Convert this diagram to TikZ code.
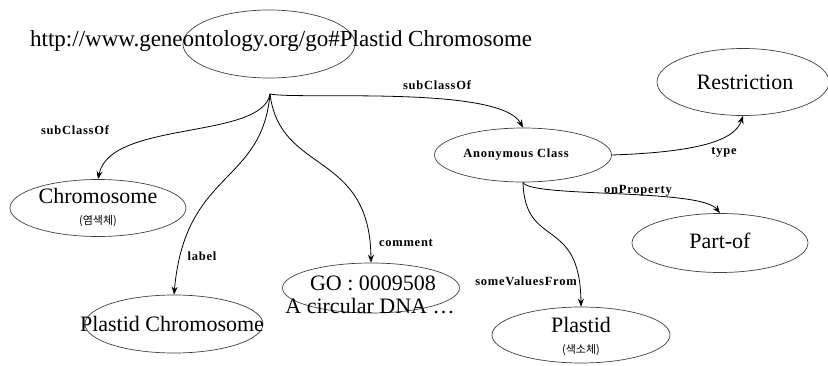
\documentclass[tikz,border=0pt]{standalone}
\usepackage{fontspec}
\setmainfont{Liberation Serif}
\newfontfamily\kofont{Noto Sans CJK KR}
\usetikzlibrary{arrows.meta,shapes.geometric}
\begin{document}
\begin{tikzpicture}[x=1pt,y=-1pt,
  ell/.style={draw=black!75,line width=0.7pt,ellipse,inner sep=0pt},
  big/.style={font=\fontsize{22}{24}\selectfont,inner sep=0pt},
  small/.style={font=\fontsize{11}{12}\selectfont\kofont,inner sep=0pt},
  lab/.style={font=\fontsize{12.5}{14}\selectfont\bfseries\addfontfeature{LetterSpace=6},inner sep=0pt},
  conn/.style={line width=0.8pt,-{Stealth[length=8pt,width=6pt]}}]
\useasboundingbox (0,0) rectangle (828,366);
% ellipses
\node[ell,minimum width=172pt,minimum height=68pt] (top) at (269,44) {};
\node[ell,minimum width=176pt,minimum height=57pt] (chrom) at (98,208) {};
\node[ell,minimum width=178pt,minimum height=58pt] (pchrom) at (174,324) {};
\node[ell,minimum width=177pt,minimum height=50pt] (go) at (371,288) {};
\node[ell,minimum width=177pt,minimum height=54pt] (anon) at (523,155) {};
\node[ell,minimum width=172pt,minimum height=67pt] (restr) at (743,82) {};
\node[ell,minimum width=176pt,minimum height=59pt] (partof) at (720,243) {};
\node[ell,minimum width=178pt,minimum height=56pt] (plastid) at (581,335) {};
% texts
\node[big,font=\fontsize{23}{25}\selectfont,anchor=base west] (toptext) at (30,47) {http://www.geneontology.org/go\#Plastid Chromosome};
\node[big] (chromtext) at (98,196) {Chromosome};
\node[small] (chromko) at (98,221) {(염색체)};
\node[big] (pchromtext) at (172,324) {Plastid Chromosome};
\node[big] (gotext1) at (373,283) {GO : 0009508};
\node[big] (gotext2) at (370,306) {A circular DNA \dots};
\node[lab] (anontext) at (516,155) {Anonymous Class};
\node[big] (restrtext) at (745,82) {Restriction};
\node[big] (partoftext) at (720,241) {Part-of};
\node[big] (plastidtext) at (581,325) {Plastid};
\node[small] (plastidko) at (581,350) {(색소체)};
% hub
\coordinate (hub) at (270,94);
% connectors
\draw[conn] (hub) .. controls (262,140) and (110,120) .. (chrom.north);
\draw[conn] (hub) .. controls (262,185) and (185,170) .. (pchrom.north);
\draw[conn] (hub) .. controls (280,175) and (370,150) .. (go.north);
\draw[conn] (hub) .. controls (300,100) and (500,85) .. (anon.north);
\draw[conn] (anon.east) .. controls (700,152) and (735,140) .. (restr.south);
\draw[conn] (anon.south) .. controls (530,198) and (700,188) .. (partof.north);
\draw[conn] (anon.south) .. controls (525,250) and (580,215) .. (plastid.north);
% labels
\node[lab] (l1) at (75,130) {subClassOf};
\node[lab] (l2) at (202,256) {label};
\node[lab] (l3) at (406,243) {comment};
\node[lab] (l4) at (437,85) {subClassOf};
\node[lab] (l5) at (724,152) {type};
\node[lab] (l6) at (638,191) {onProperty};
\node[lab] (l7) at (526,281) {someValuesFrom};
\end{tikzpicture}
\end{document}
